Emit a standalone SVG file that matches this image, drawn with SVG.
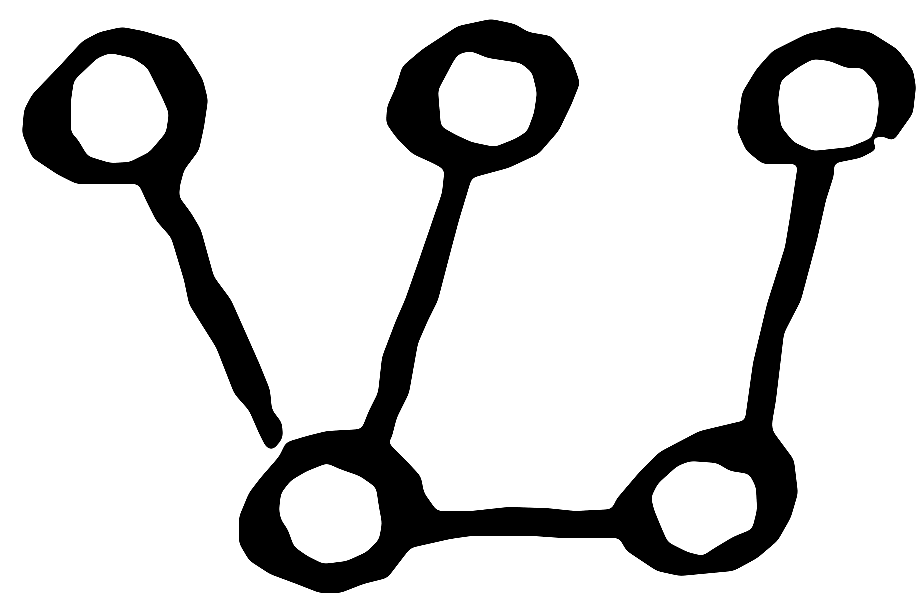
<svg xmlns="http://www.w3.org/2000/svg" width="916" height="607" viewBox="0 0 916 607">
<style>
.ink{fill:#000;stroke:#000;stroke-width:2;stroke-linejoin:round;fill-rule:evenodd}
</style>
<defs>
<filter id="smooth" filterUnits="userSpaceOnUse" x="0" y="0" width="916" height="607">
<feGaussianBlur in="SourceGraphic" stdDeviation="3"/>
<feComponentTransfer><feFuncA type="linear" slope="18" intercept="-8.5"/></feComponentTransfer>
</filter>
</defs>
<rect width="916" height="607" fill="#fff"/>
<g filter="url(#smooth)">
<g id="connectors">
<path id="e1" class="ink" d="M137,178 L147,200 L157,220 L172,237 L185,280 L190,304 L200,320 L217,347 L235,393 L250,410 L260,433 L267,447 L273,449 L282,437 L281,423 L271,410 L269,390 L258,363 L242,327 L230,300 L213,277 L200,230 L190,213 L178,197 L180,175 Z"/>
<path id="e2" class="ink" d="M446,165 L443,193 L420,260 L406,300 L396,323 L383,357 L379,393 L369,413 L360,436 L390,440 L396,417 L408,393 L417,343 L427,320 L437,300 L450,250 L458,220 L471,177 L470,165 Z"/>
<path id="e3" class="ink" d="M800,160 L798,170 L791,217 L786,247 L768,304 L754,363 L746,420 L745,435 L772,435 L771,423 L775,400 L783,333 L800,300 L816,240 L825,200 L833,175 L833,160 Z"/>
<path id="e4" class="ink" d="M420,495 L437,512 L471,512 L508,508 L546,509 L575,512 L615,510 L622,537 L617,537 L562,537 L533,535 L471,535 L450,538 L410,547 Z"/>
</g>
<g id="node-top-left">
<path class="ink" d="M122,28 L143,32 L177,42 L190,60 L202,80 L207,100 L203,127 L198,150 L183,170 L180,182 L137,183 L77,183 L57,173 L33,157 L23,133 L25,110 L33,95 L60,67 L83,42 L100,33 Z M110,52 L97,57 L73,80 L70,100 L70,133 L77,140 L87,157 L110,164 L130,163 L150,153 L167,133 L170,113 L163,97 L148,67 L133,57 Z"/>
</g>
<g id="node-top-middle">
<path class="ink" d="M458,27 L491,20 L515,25 L528,33 L551,37 L571,60 L579,83 L571,103 L558,130 L538,153 L508,167 L471,177 L448,170 L433,162 L413,153 L397,137 L387,123 L388,107 L397,87 L403,67 L423,50 Z M458,53 L453,60 L437,90 L440,127 L458,137 L471,143 L495,148 L515,140 L528,132 L535,113 L538,93 L533,72 L521,62 L488,57 L471,50 Z"/>
</g>
<g id="node-top-right">
<path class="ink" d="M738,130 L743,93 L757,70 L773,52 L807,35 L837,28 L870,33 L897,50 L912,70 L915,87 L912,113 L900,130 L893,140 L883,135 L873,137 L872,145 L877,148 L860,157 L830,163 L800,163 L763,163 L747,150 Z M777,100 L780,127 L793,143 L813,152 L850,148 L870,140 L877,127 L880,103 L877,83 L863,67 L847,67 L830,60 L813,58 L797,67 L780,80 Z"/>
</g>
<g id="node-bottom-left">
<path class="ink" d="M240,517 L240,543 L250,560 L270,573 L297,583 L320,592 L340,592 L363,583 L387,577 L400,560 L410,547 L433,507 L423,493 L420,477 L407,463 L387,443 L363,430 L327,432 L307,437 L287,443 L280,457 L260,480 L250,493 L243,510 Z M278,510 L280,520 L287,530 L293,547 L307,557 L323,565 L347,562 L367,553 L380,540 L383,523 L380,507 L377,487 L360,475 L340,468 L327,462 L307,470 L290,480 L280,493 Z"/>
</g>
<g id="node-bottom-right">
<path class="ink" d="M617,500 L640,473 L660,453 L700,432 L742,422 L773,433 L793,460 L797,493 L790,517 L777,540 L757,557 L733,570 L680,575 L657,570 L627,550 L620,537 L612,512 Z M650,497 L653,510 L660,527 L667,543 L687,553 L703,557 L713,550 L733,538 L753,530 L758,510 L757,487 L750,473 L730,470 L717,462 L690,460 L677,465 L657,483 Z"/>
</g>
</g>
</svg>
